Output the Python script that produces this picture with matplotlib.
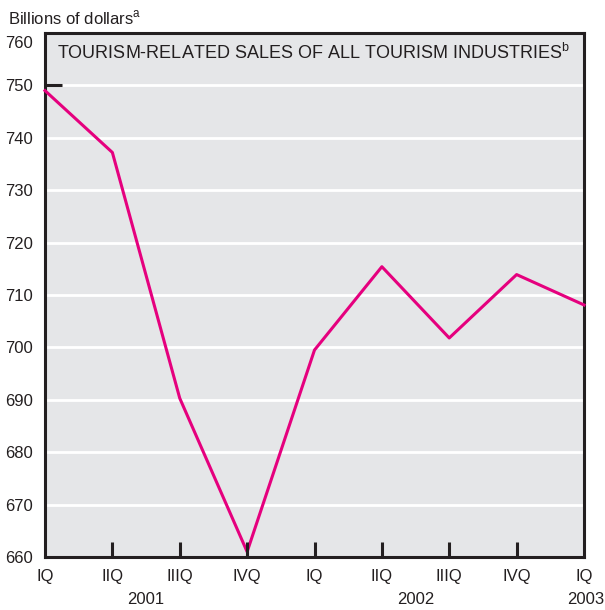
import matplotlib
matplotlib.use("Agg")
import matplotlib.pyplot as plt
from matplotlib import font_manager
from matplotlib.transforms import ScaledTranslation

quarters = ["IQ", "IIQ", "IIIQ", "IVQ", "IQ", "IIQ", "IIIQ", "IVQ", "IQ"]
years = ["2001", "2002", "2003"]
year_pos = [1.5, 5.5, 8.0]
sales = [749.0, 737.2, 690.3, 661.0, 699.5, 715.4, 701.8, 713.9, 708.1]
yticks = [660, 670, 680, 690, 700, 710, 720, 730, 740, 750, 760]

names = {f.name for f in font_manager.fontManager.ttflist}
narrow = "Liberation Sans Narrow" if "Liberation Sans Narrow" in names else "Liberation Sans"
lab_size = 12.5 if narrow != "Liberation Sans" else 12

fig = plt.figure(figsize=(6.05, 6.10), dpi=100)
ax = fig.add_axes([45/605, 1-557/610, (584-45)/605, (557-33)/610])
ax.set_facecolor("#E5E6E8")
x = list(range(len(sales)))
ax.set_xlim(0, 8)
ax.set_ylim(660, 760)
for v in yticks[1:-1]:
    ax.axhline(v, color="white", lw=2, zorder=1)
ax.plot(x, sales, color="#E5007E", lw=2.2, zorder=3, clip_on=False)

for s in ax.spines.values():
    s.set_linewidth(2.2)
    s.set_color("#231F20")

ax.set_yticks(yticks)
ax.set_yticklabels([str(v) for v in yticks], fontfamily=narrow, fontsize=lab_size, color="#231F20")
ax.set_xticks(x)
ax.set_xticklabels(quarters, fontfamily=narrow, fontsize=lab_size, color="#231F20")
ax.tick_params(axis="y", direction="in", length=0, pad=9)
ax.tick_params(axis="x", direction="in", length=0, pad=9)
# shift the top y label down a bit as in the reference
top_lab = ax.get_yticklabels()[-1]
top_lab.set_transform(top_lab.get_transform() + ScaledTranslation(0, -9/100, fig.dpi_scale_trans))

# inner tick marks
for xi in x[1:-1]:
    ax.plot([xi, xi], [660, 662.9], color="#231F20", lw=2.2, zorder=4, solid_capstyle="butt")
ax.plot([0, 0.25], [750, 750], color="#231F20", lw=2.2, zorder=4, solid_capstyle="butt")

for yr, p in zip(years, year_pos):
    is_last = p == year_pos[-1]
    t = ax.text(p, -0.066, yr, transform=ax.get_xaxis_transform(),
                ha="right" if is_last else "center", va="top",
                fontfamily=narrow, fontsize=lab_size, color="#231F20")
    if is_last:
        t.set_transform(ax.get_xaxis_transform() + ScaledTranslation(20/100, 0, fig.dpi_scale_trans))

fig.text(8/605, 1-18/610, "Billions of dollars$^{\\mathregular{a}}$", ha="left", va="center",
         fontfamily=narrow, fontsize=lab_size, color="#231F20")
ax.text(0.022, 0.982, "TOURISM-RELATED SALES OF ALL TOURISM INDUSTRIES$^{\\mathregular{b}}$",
        transform=ax.transAxes, ha="left", va="top", fontfamily="Liberation Sans",
        fontsize=13, color="#231F20")

fig.savefig("out.png", dpi=100, facecolor="white")
